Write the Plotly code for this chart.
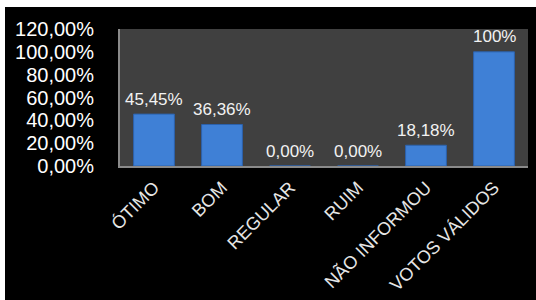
import plotly.graph_objects as go

categories = ["ÓTIMO", "BOM", "REGULAR", "RUIM", "NÃO INFORMOU", "VOTOS VÁLIDOS"]
values = [45.45, 36.36, 0.0, 0.0, 18.18, 100.0]
value_labels = ["45,45%", "36,36%", "0,00%", "0,00%", "18,18%", "100%"]

# page offset of the figure (body margin set below)
OX, OY = 5, 7
W, H = 536 - OX, 300 - OY
L, R, T, B = 115, 8, 22, 134

fig = go.Figure()
fig.add_trace(go.Bar(
    x=categories, y=values,
    marker=dict(color="#3f80d6", line=dict(color="#2c62ad", width=1)),
    width=0.6,
    hoverinfo="skip",
))

for c, v, t in zip(categories, values, value_labels):
    fig.add_annotation(x=c, y=v, text=t, showarrow=False, yanchor="middle",
                       yshift=15, font=dict(size=17, color="#f2f2f2",
                                            family="Liberation Sans, Arial"))

fig.update_layout(
    width=W, height=H,
    margin=dict(l=L, r=R, t=T, b=B, pad=0, autoexpand=False),
    paper_bgcolor="black",
    plot_bgcolor="#404040",
    separators=",.",
    showlegend=False,
    font=dict(family="Liberation Sans, Arial", color="white"),
    bargap=0.4,
)
fig.update_yaxes(range=[0, 120], dtick=20, tickformat=".2f", ticksuffix="%",
                 showgrid=False, zeroline=False, automargin=False,
                 showline=True, linecolor="#8a8a8a", linewidth=2,
                 ticklabelstandoff=20,
                 tickfont=dict(size=20, color="white"))
fig.update_xaxes(showgrid=False, showline=True, linecolor="#8a8a8a", linewidth=2,
                 tickangle=-45, ticklabelstandoff=2, automargin=False,
                 tickfont=dict(size=18, color="#e6e6e6"))

fig.write_html(
    "out.html",
    post_script=f"document.body.style.margin='{OY}px 0 0 {OX}px';document.body.style.background='white';",
)
